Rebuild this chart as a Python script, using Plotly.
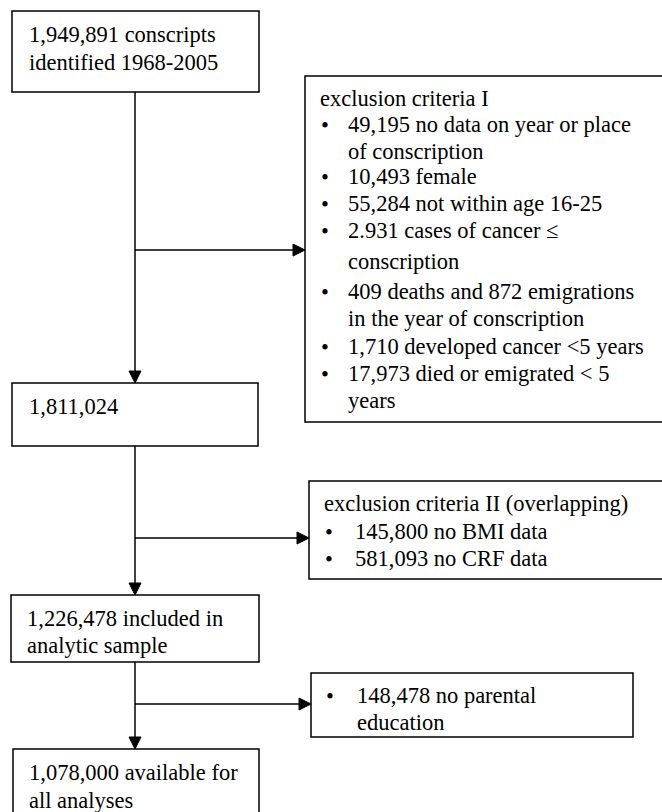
import plotly.graph_objects as go

# ---- content (text / counts) ----
main_lines = [
    ["1,949,891 conscripts", "identified 1968-2005"],
    ["1,811,024"],
    ["1,226,478 included in", "analytic sample"],
    ["1,078,000 available for", "all analyses"],
]
excl1_title = "exclusion criteria I"
excl1_items = [
    ["49,195 no data on year or place", "of conscription"],
    ["10,493 female"],
    ["55,284 not within age 16-25"],
    ["2.931 cases of cancer \u2264", "conscription"],
    ["409 deaths and 872 emigrations", "in the year of conscription"],
    ["1,710 developed cancer <5 years"],
    ["17,973 died or emigrated < 5", "years"],
]
excl2_title = "exclusion criteria II (overlapping)"
excl2_items = [["145,800 no BMI data"], ["581,093 no CRF data"]]
excl3_items = [["148,478 no parental", "education"]]

# ---- layout geometry (pixels) ----
W, H = 662, 812
FONT = dict(family="Liberation Serif", size=22.5, color="black")
LW = 1.5
trunk_x = 135

main_boxes = [  # x0, y0, x1, y1, text_x, line_ys
    (12, 11, 259, 92, 27, [34, 62]),
    (12, 383, 258, 446, 27, [406]),
    (11, 595, 259, 662, 25, [618, 645]),
    (13, 749, 259, 830, 27, [772, 800]),
]
side_boxes = [  # x0, y0, x1, y1, title, title_x, bullet_x, text_x, line_ys, arrow_y
    (305, 76, 680, 422, excl1_title, 318, 325, 346,
     [98, 124, 151, 176, 203, 230, 261, 291, 318, 346, 373, 400], 250),
    (309, 481, 680, 579, excl2_title, 322, 329, 353, [503, 531, 558], 538),
    (311, 673, 633, 737, None, None, 330, 355, [695, 722], 704),
]
side_items = [excl1_items, excl2_items, excl3_items]

shapes, annots = [], []

def rect(x0, y0, x1, y1):
    shapes.append(dict(type="rect", xref="x", yref="y", x0=x0, y0=y0, x1=x1, y1=y1,
                       line=dict(color="black", width=LW), fillcolor="white", layer="below"))

def line(x0, y0, x1, y1):
    shapes.append(dict(type="line", xref="x", yref="y", x0=x0, y0=y0, x1=x1, y1=y1,
                       line=dict(color="black", width=LW)))

def head(tx, ty, direction, L=12, hw=6):
    if direction == "down":
        p = f"M {tx} {ty} L {tx-hw} {ty-L} L {tx+hw} {ty-L} Z"
    else:
        p = f"M {tx} {ty} L {tx-L} {ty-hw} L {tx-L} {ty+hw} Z"
    shapes.append(dict(type="path", xref="x", yref="y", path=p,
                       fillcolor="black", line=dict(color="black", width=1)))

def text(x, y, s, anchor="left"):
    annots.append(dict(x=x, y=y, xref="x", yref="y", text=s, showarrow=False,
                       xanchor=anchor, yanchor="middle", font=FONT))

# main boxes
for (x0, y0, x1, y1, tx, ys), lines in zip(main_boxes, main_lines):
    rect(x0, y0, x1, y1)
    for yy, s in zip(ys, lines):
        text(tx, yy, s)

# trunk arrows between main boxes
for a, b in zip(main_boxes[:-1], main_boxes[1:]):
    line(trunk_x, a[3], trunk_x, b[1] - 10)
    head(trunk_x, b[1], "down")

# side boxes
for sb, items in zip(side_boxes, side_items):
    x0, y0, x1, y1, title, title_x, bx, tx, ys, ay = sb
    rect(x0, y0, x1, y1)
    k = 0
    if title:
        text(title_x, ys[0], title)
        k = 1
    for item in items:
        for j, s in enumerate(item):
            if j == 0:
                text(bx, ys[k] + 1, "\u2022", anchor="center")
            text(tx, ys[k], s)
            k += 1
    line(trunk_x, ay, x0 - 10, ay)
    head(x0, ay, "right")

fig = go.Figure()
fig.update_layout(
    width=W, height=H, autosize=False,
    margin=dict(l=0, r=0, t=0, b=0),
    paper_bgcolor="white", plot_bgcolor="white",
    xaxis=dict(range=[0, W], visible=False, fixedrange=True),
    yaxis=dict(range=[H, 0], visible=False, fixedrange=True),
    shapes=shapes, annotations=annots, showlegend=False,
)
fig.write_html("out.html", config={"displayModeBar": False},
               post_script="document.body.style.margin='0';")
